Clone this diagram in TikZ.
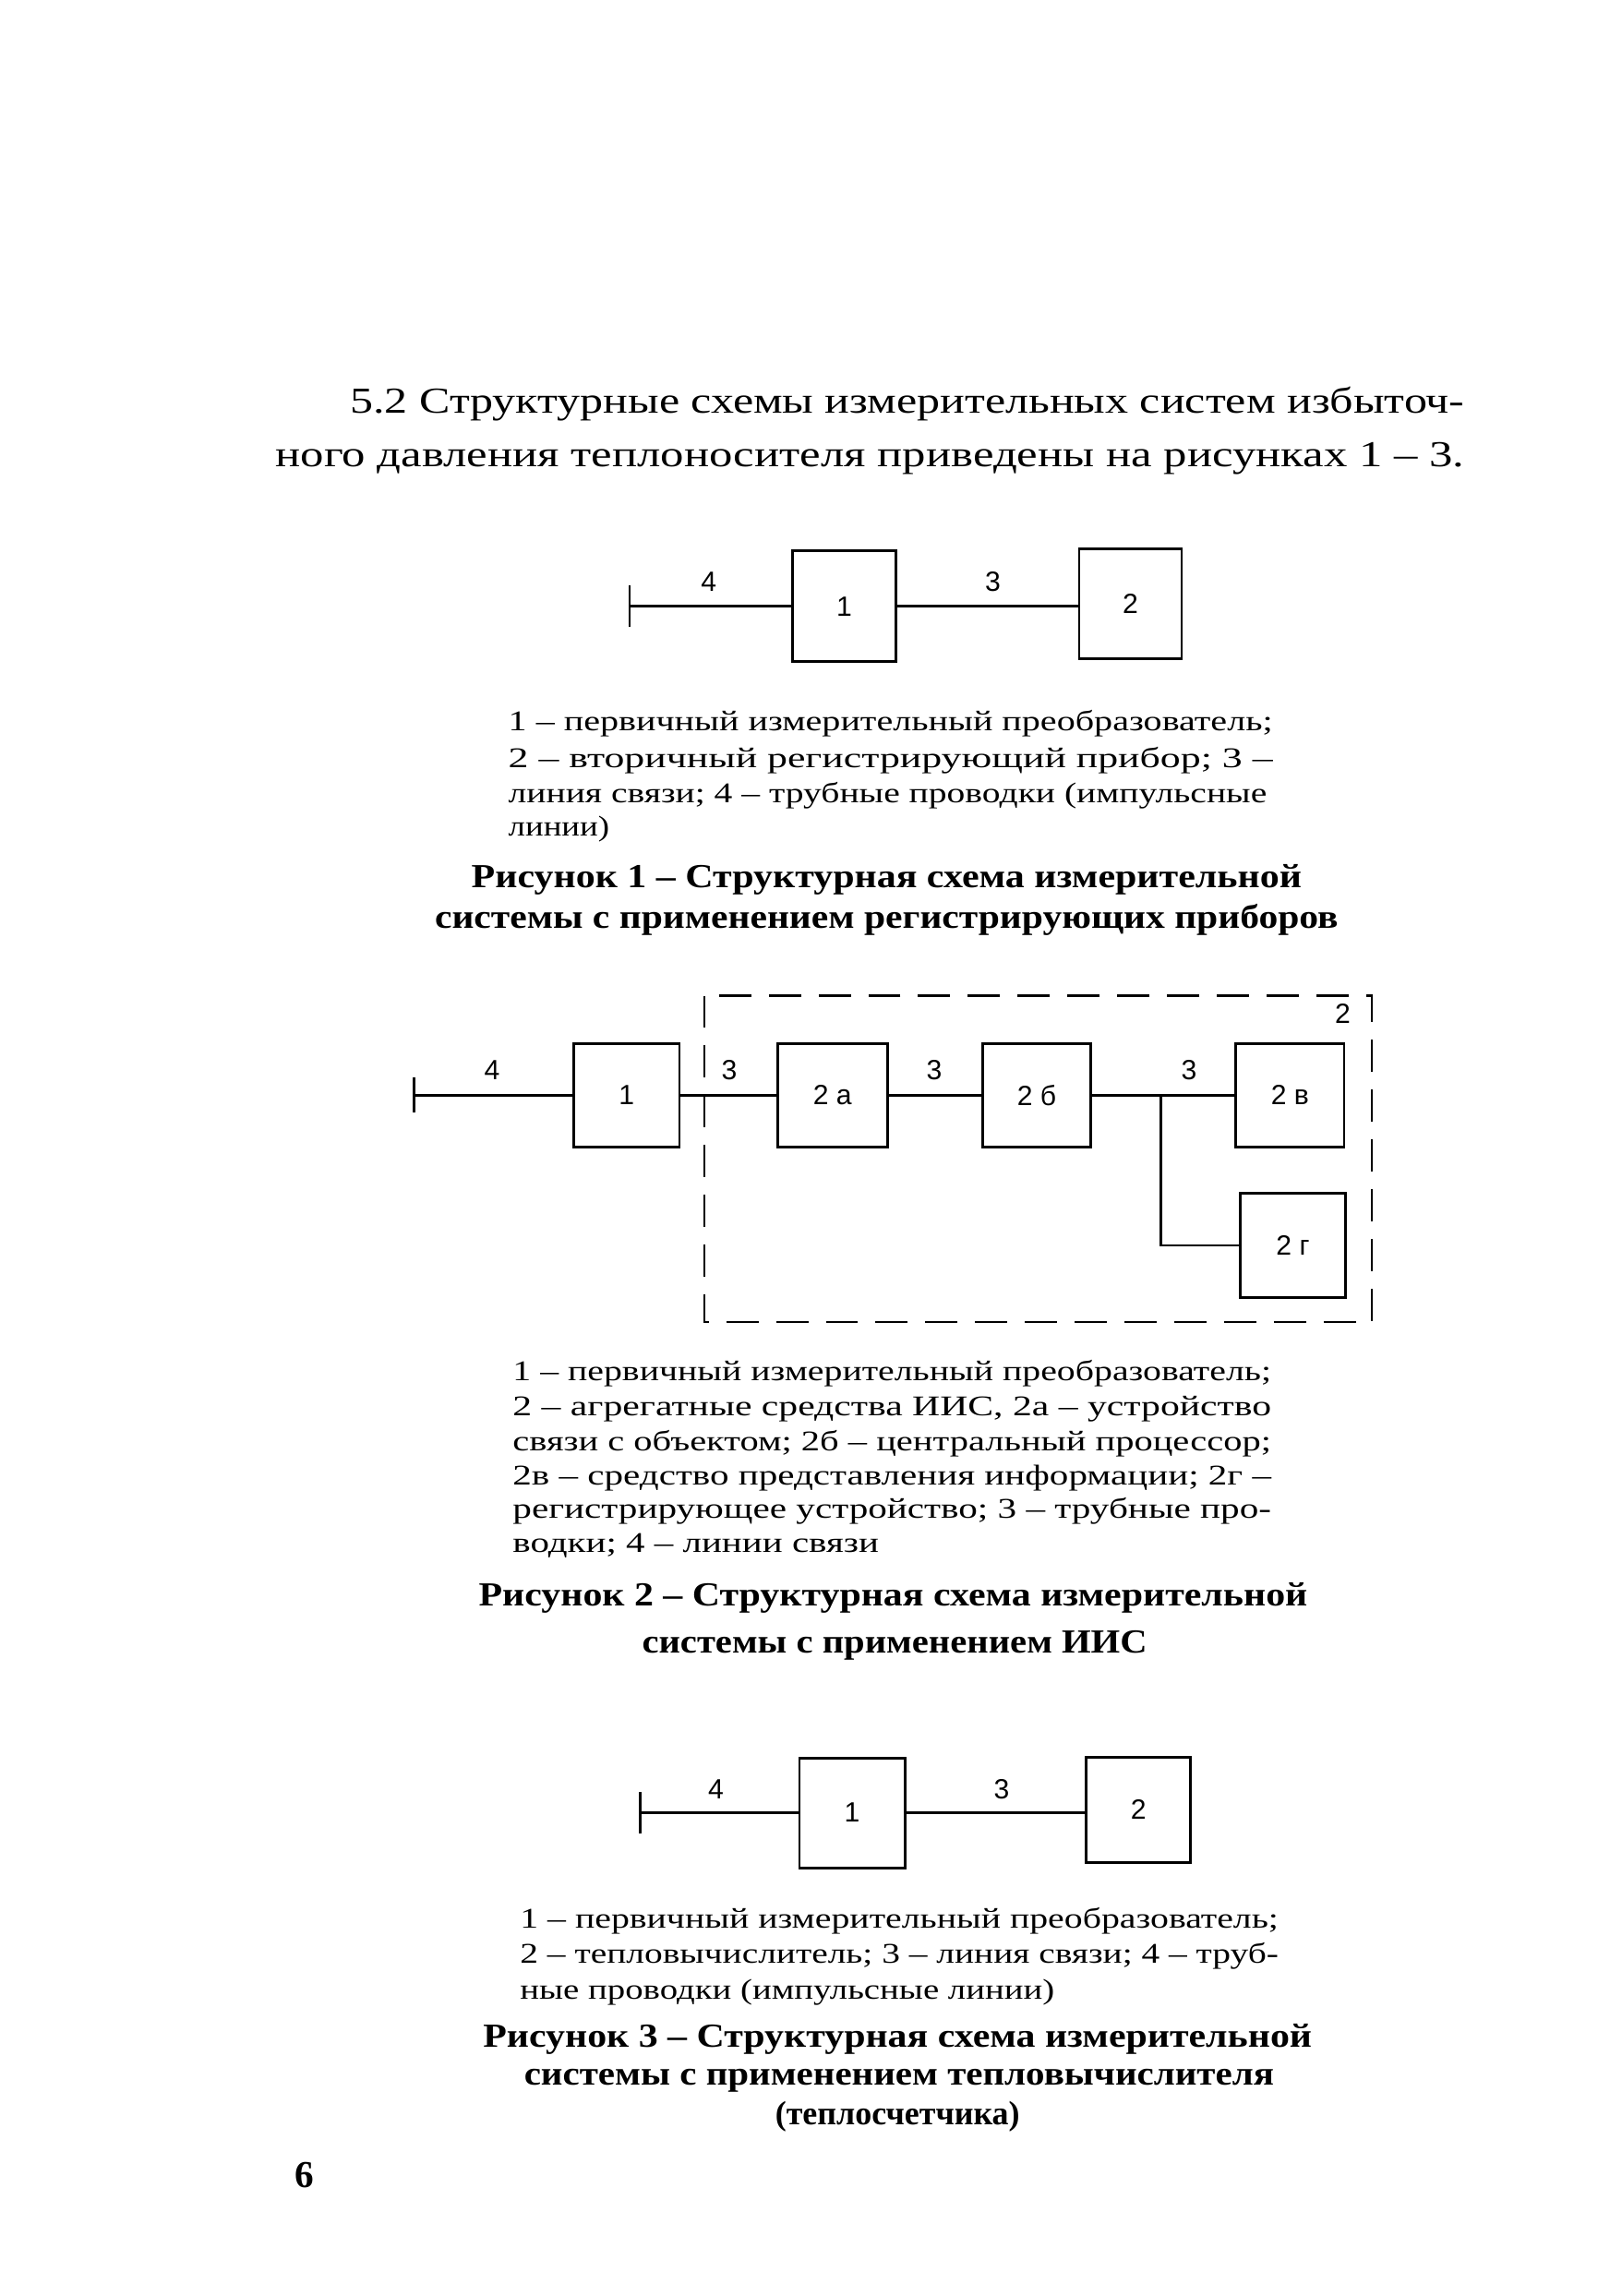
\documentclass[tikz,border=0pt]{standalone}
\usepackage{fontspec}
\usepackage{graphicx}
\setmainfont{Liberation Serif}
\newfontfamily\lblfont{Liberation Sans}
\newcommand\fitw[2]{\resizebox{#1pt}{\height}{#2}}
\newcommand\headf{\fontsize{25}{25}\selectfont}
\newcommand\legf{\fontsize{19.5}{19.5}\selectfont}
\newcommand\capf{\bfseries\fontsize{23}{23}\selectfont}
\begin{document}
\begin{tikzpicture}[x=1pt,y=-1pt,
  box/.style={draw, line width=1.8pt, inner sep=0pt, font=\lblfont\fontsize{19}{19}\selectfont},
  conn/.style={line width=1.8pt},
  lbl/.style={inner sep=0pt, font=\lblfont\fontsize{19}{19}\selectfont},
  txt/.style={anchor=base west, inner sep=0pt},
  ctxt/.style={anchor=base, inner sep=0pt},
  dbox/.style={line width=1.4pt, dash pattern=on 22pt off 12pt}]
\fill[white] (0,0) rectangle (1099,1568);
\path[use as bounding box] (0,0) rectangle (1099,1568);

% heading
\node[txt] (h1) at (239,282) {\headf\fitw{761}{5.2 Структурные схемы измерительных систем избыточ-}};
\node[txt] (h2) at (188,319) {\headf\fitw{812}{ного давления теплоносителя приведены на рисунках 1 – 3.}};

% ---------- Figure 1
\coordinate (t1) at (430,414);
\node[box, minimum width=71pt, minimum height=76pt] (a1) at (576.5,414) {1};
\node[box, minimum width=70pt, minimum height=75pt] (a2) at (772,412.5) {2};
\draw[conn] (t1) -- (a1.west);
\draw[conn] ([yshift=14pt]t1) -- ([yshift=-14pt]t1);
\draw[conn] (a1.east) -- (a1.east -| a2.west);
\node[lbl] (a4l) at (484,397) {4};
\node[lbl] (a3l) at (678,397) {3};

\node[txt] (l11) at (347,499) {\legf\fitw{522}{1 – первичный измерительный преобразователь;}};
\node[txt] (l12) at (347,524) {\legf\fitw{522}{2 – вторичный регистрирующий прибор; 3 –}};
\node[txt] (l13) at (347,548) {\legf\fitw{518}{линия связи; 4 – трубные проводки (импульсные}};
\node[txt] (l14) at (347,571) {\legf\fitw{69}{линии)}};

\node[ctxt] (c11) at (605.5,606) {\capf\fitw{567}{Рисунок 1 – Структурная схема измерительной}};
\node[ctxt] (c12) at (605.5,634) {\capf\fitw{617}{системы с применением регистрирующих приборов}};

% ---------- Figure 2
\draw[dbox] (481,680) rectangle (937,903);
\node[lbl] (d2l) at (917,692) {2};
\coordinate (t2) at (283,748);
\node[box, minimum width=72pt, minimum height=71pt] (b1) at (428,748) {1};
\node[box, minimum width=75pt, minimum height=71pt] (b2a) at (568.5,748) {2 а};
\node[box, minimum width=74pt, minimum height=71pt] (b2b) at (708,748) {2 б};
\node[box, minimum width=74pt, minimum height=71pt] (b2v) at (881,748) {2 в};
\node[box, minimum width=72pt, minimum height=71pt] (b2g) at (883,850.5) {2 г};
\coordinate (j) at (793,748);
\draw[conn] (t2) -- (b1.west);
\draw[conn] ([yshift=12pt]t2) -- ([yshift=-12pt]t2);
\draw[conn] (b1.east) -- (b2a.west);
\draw[conn] (b2a.east) -- (b2b.west);
\draw[conn] (b2b.east) -- (b2v.west);
\draw[conn] (j) |- (b2g.west);
\node[lbl] (b4l) at (336,731) {4};
\node[lbl] (b3l1) at (498,731) {3};
\node[lbl] (b3l2) at (638,731) {3};
\node[lbl] (b3l3) at (812,731) {3};

\node[txt] (l21) at (350,943) {\legf\fitw{518}{1 – первичный измерительный преобразователь;}};
\node[txt] (l22) at (350,967) {\legf\fitw{518}{2 – агрегатные средства ИИС, 2а – устройство}};
\node[txt] (l23) at (350,991) {\legf\fitw{518}{связи с объектом; 2б – центральный процессор;}};
\node[txt] (l24) at (350,1014) {\legf\fitw{518}{2в – средство представления информации; 2г –}};
\node[txt] (l25) at (350,1037) {\legf\fitw{518}{регистрирующее устройство; 3 – трубные про-}};
\node[txt] (l26) at (350,1060) {\legf\fitw{250}{водки; 4 – линии связи}};

\node[ctxt] (c21) at (610,1097) {\capf\fitw{566}{Рисунок 2 – Структурная схема измерительной}};
\node[ctxt] (c22) at (611,1129) {\capf\fitw{345}{системы с применением ИИС}};

% ---------- Figure 3
\coordinate (t3) at (437,1238);
\node[box, minimum width=72pt, minimum height=75pt] (e1) at (582,1238) {1};
\node[box, minimum width=71pt, minimum height=72pt] (e2) at (777.5,1236) {2};
\draw[conn] (t3) -- (e1.west);
\draw[conn] ([yshift=14pt]t3) -- ([yshift=-14pt]t3);
\draw[conn] (e1.east) -- (e1.east -| e2.west);
\node[lbl] (e4l) at (489,1222) {4};
\node[lbl] (e3l) at (684,1222) {3};

\node[txt] (l31) at (355,1317) {\legf\fitw{518}{1 – первичный измерительный преобразователь;}};
\node[txt] (l32) at (355,1341) {\legf\fitw{518}{2 – тепловычислитель; 3 – линия связи; 4 – труб-}};
\node[txt] (l33) at (355,1365) {\legf\fitw{365}{ные проводки (импульсные линии)}};

\node[ctxt] (c31) at (613,1398) {\capf\fitw{566}{Рисунок 3 – Структурная схема измерительной}};
\node[ctxt] (c32) at (614,1424) {\capf\fitw{512}{системы с применением тепловычислителя}};
\node[ctxt] (c33) at (613,1451) {\capf\fitw{167}{(теплосчетчика)}};

\node[txt] (pg) at (201,1494) {\bfseries\fontsize{26}{26}\selectfont 6};
\end{tikzpicture}
\end{document}
